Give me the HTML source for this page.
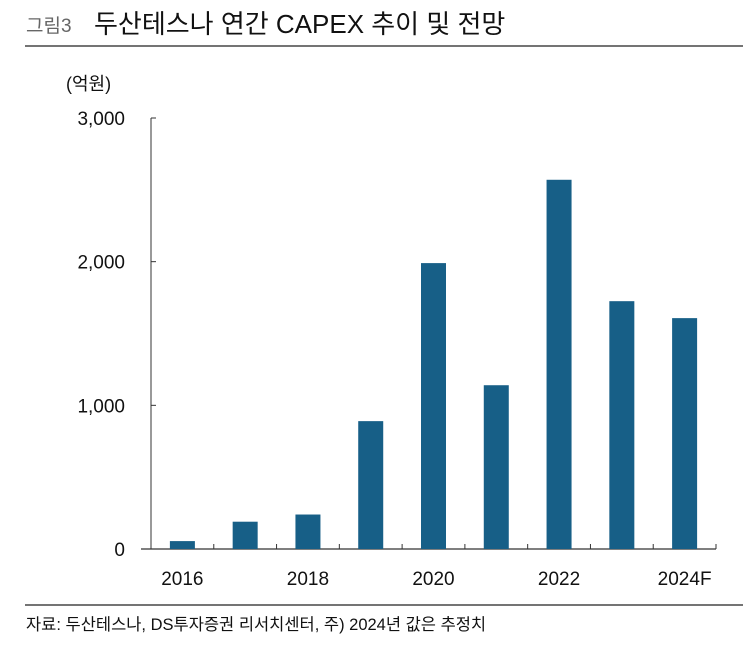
<!DOCTYPE html>
<html><head><meta charset="utf-8"><style>
body{margin:0;width:743px;height:644px;background:#fff;overflow:hidden;font-family:"Liberation Sans","Noto Sans CJK KR",sans-serif}
</style></head><body>
<svg width="743" height="644" xmlns="http://www.w3.org/2000/svg" style="font-family:'Liberation Sans','Noto Sans CJK KR',sans-serif">
<text x="26" y="32" font-size="19" fill="#666">그림3</text>
<text x="94" y="33" font-size="26" fill="#111">두산테스나 연간 CAPEX 추이 및 전망</text>
<line x1="25" y1="46" x2="743" y2="46" stroke="#222" stroke-width="1.3"/>
<text x="66" y="90" font-size="18" fill="#111">(억원)</text>
<g id="yax"></g>
<g id="xax"></g>
<g id="bars"></g>
<line x1="25" y1="605" x2="743" y2="605" stroke="#222" stroke-width="1.3"/>
<text x="26" y="630" font-size="16.5" fill="#111">자료: 두산테스나, DS투자증권 리서치센터, 주) 2024년 값은 추정치</text>
</svg>
<script>
const categories=["2016","2017","2018","2019","2020","2021","2022","2023","2024F"];
const capex=[55,190,240,890,1990,1140,2570,1725,1607];
const yTicks=[0,1000,2000,3000];
const yTickLabels=["0","1,000","2,000","3,000"];
const xLabelShown=[true,false,true,false,true,false,true,false,true];
const NS="http://www.w3.org/2000/svg";
const x0=151,x1=716,y0=549,yTop=118,yMax=3000;
const step=(x1-x0)/categories.length;
const ys=v=>y0-(v/yMax)*(y0-yTop);
const xc=i=>x0+step*(i+0.5);
function mk(t,a,p){const e=document.createElementNS(NS,t);for(const k in a)e.setAttribute(k,a[k]);p.appendChild(e);return e;}
const yax=document.getElementById('yax'),xax=document.getElementById('xax'),bars=document.getElementById('bars');
const yl=mk('line',{x1:x0,y1:yTop,x2:x0,y2:y0,stroke:'#333','stroke-width':1},yax);


yTicks.forEach((v,i)=>{
 const t=mk('line',{x1:x0,y1:ys(v),x2:x0+5,y2:ys(v),stroke:'#333'},yax);
 
 
 const l=mk('text',{x:125,y:ys(v)+7,'font-size':19,'text-anchor':'end',fill:'#111'},yax);
 l.textContent=yTickLabels[i];
 
 
});
const xl=mk('line',{x1:x0-10,y1:y0,x2:x1,y2:y0,stroke:'#333','stroke-width':1.2},xax);


for(let i=0;i<=categories.length;i++){
 const t=mk('line',{x1:x0+step*i,y1:y0,x2:x0+step*i,y2:y0-5,stroke:'#333'},xax);
 
 
}
categories.forEach((c,i)=>{
 const h=ys(0)-ys(capex[i]);
 const r=mk('rect',{x:xc(i)-12.5,y:ys(capex[i]),width:25,height:h,fill:'#175f87'},bars);
 
 
 if(xLabelShown[i]){
  const l=mk('text',{x:xc(i),y:585,'font-size':19,'text-anchor':'middle',fill:'#111'},xax);
  l.textContent=c;
  
  
 }
});
</script>
</body></html>
